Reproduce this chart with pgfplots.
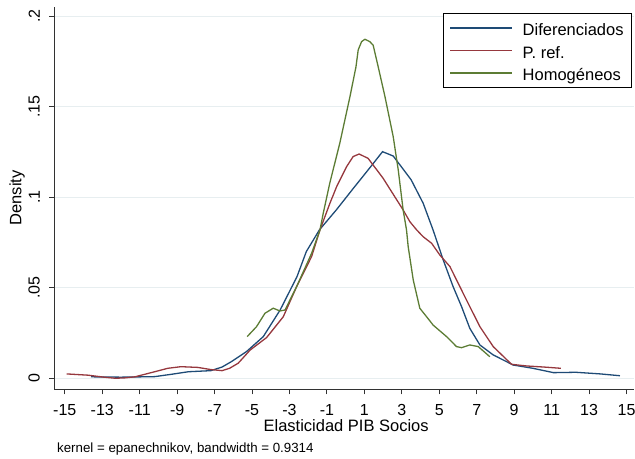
\documentclass[border=0pt]{standalone}
\usepackage{fontspec}
\setmainfont{Liberation Sans}
\usepackage{pgfplots}
\pgfplotsset{compat=1.18}
\definecolor{snavy}{RGB}{30,75,118}
\definecolor{smaroon}{RGB}{150,56,62}
\definecolor{sforest}{RGB}{92,124,52}
\definecolor{sgrid}{RGB}{231,238,240}
\definecolor{saxis}{RGB}{50,50,50}
\begin{document}
\begin{tikzpicture}
\path[use as bounding box] (-54.3bp,-69.7bp) rectangle (580.7bp,389.3bp);
\begin{axis}[
  scale only axis, width=579.7bp, height=382.6bp,
  xmin=-15.56, xmax=15.4, ymin=-0.0061, ymax=0.2053,
  axis x line*=bottom, axis y line*=left,
  axis line style={-, saxis, line width=0.9bp},
  clip=false,
  xtick={-15,-13,-11,-9,-7,-5,-3,-1,1,3,5,7,9,11,13,15},
  xticklabels={-15,-13,-11,-9,-7,-5,-3,-1,1,3,5,7,9,11,13,15},
  ytick={0,0.05,0.1,0.15,0.2},
  yticklabels={0,.05,.1,.15,.2},
  tick align=outside, major tick length=5bp,
  tick style={saxis, line width=0.9bp},
  minor tick num=0,
  tick label style={font=\fontsize{16bp}{19bp}\selectfont, text=black},
  xticklabel style={yshift=-6.5bp},
  yticklabel style={xshift=-6bp, rotate=90, anchor=south},
  ymajorgrids, grid style={sgrid, line width=1.2bp},
  every axis x label/.style={at={(axis description cs:0.5,0)}, yshift=-36.7bp, xshift=2bp, anchor=center, font=\fontsize{16.5bp}{19bp}\selectfont},
  every axis y label/.style={at={(axis description cs:0,0.5)}, xshift=-37.3bp, rotate=90, anchor=center, font=\fontsize{16.5bp}{19bp}\selectfont},
  xlabel={Elasticidad PIB Socios},
  ylabel={Density},
  legend style={at={(axis description cs:1,1)}, anchor=north east, xshift=-2bp, yshift=-6.6bp,
    draw=black, line width=0.8bp, font=\fontsize{16.5bp}{19bp}\selectfont,
    inner xsep=6bp, inner ysep=3bp, row sep=0bp, cells={anchor=west}},
  legend image code/.code={\draw[#1, line width=1.6bp] (0bp,0bp)--(62bp,0bp); \path (70bp,0bp);},
]
\addplot[snavy, line width=1.3bp] coordinates {
(-13.6,0.0008) (-12.0,0.0006) (-10.2,0.0009) (-9.3,0.0022) (-8.4,0.0036) (-7.2,0.0042)
(-6.6,0.0062) (-6.1,0.0092) (-5.3,0.0147) (-4.4,0.023) (-3.5,0.0377) (-2.6,0.0561)
(-2.1,0.070) (-1.4,0.082) (-0.5,0.093) (0.4,0.1048) (1.3,0.1164) (1.97,0.1252)
(2.54,0.1228) (3.0,0.1165) (3.5,0.1096) (4.14,0.0967) (4.67,0.0819) (5.21,0.0654)
(5.74,0.0506) (6.19,0.0396) (6.63,0.0276) (7.17,0.0184) (7.88,0.0129) (8.95,0.0073)
(10.0,0.0055) (11.1,0.0031) (12.3,0.0033) (13.6,0.0024) (14.65,0.0014)
};
\addlegendentry{\rule{0pt}{17bp}Diferenciados\hspace{8bp}}
\addplot[smaroon, line width=1.3bp] coordinates {
(-14.9,0.0024) (-13.75,0.0017) (-12.9,0.0006) (-12.3,0.0) (-11.8,0.0002) (-11.25,0.0008)
(-10.2,0.0036) (-9.5,0.0055) (-8.8,0.0064) (-7.9,0.006) (-7.2,0.0048) (-6.6,0.0042)
(-6.2,0.0055) (-5.74,0.0083) (-5.1,0.0156) (-4.22,0.0225) (-3.33,0.034) (-2.62,0.0506)
(-1.82,0.0672) (-1.37,0.082) (-0.84,0.0967) (-0.48,0.1059) (0.05,0.1169) (0.4,0.1225) (0.72,0.1239)
(1.2,0.1215) (2.0,0.1105) (3.07,0.093) (3.43,0.0865) (3.79,0.082) (4.14,0.0782) (4.59,0.0746)
(5.03,0.0681) (5.57,0.0617) (6.10,0.0506) (6.63,0.0396) (7.17,0.0285) (7.88,0.0175)
(8.86,0.0077) (9.66,0.0068) (10.73,0.0061) (11.49,0.0055)
};
\addlegendentry{\rule{0pt}{17bp}P. ref.}
\addplot[sforest, line width=1.3bp] coordinates {
(-5.26,0.023) (-4.76,0.0285) (-4.31,0.0359) (-3.87,0.0387) (-3.51,0.0372) (-3.24,0.0377)
(-2.62,0.0506) (-1.82,0.069) (-1.37,0.082) (-1.2,0.091) (-0.85,0.1077) (-0.31,0.130)
(0.23,0.1556) (0.55,0.172) (0.67,0.1814) (0.85,0.186) (1.03,0.1873) (1.29,0.186) (1.47,0.184)
(1.74,0.172) (2.10,0.1556) (2.54,0.1335) (2.81,0.115) (3.07,0.093) (3.25,0.082)
(3.34,0.0727) (3.61,0.0543) (3.96,0.0387) (4.46,0.0322) (4.67,0.0294) (5.39,0.023)
(5.92,0.0175) (6.19,0.0169) (6.63,0.0184) (7.08,0.0175) (7.70,0.0119)
};
\addlegendentry{\rule{0pt}{17bp}Homogéneos}
\end{axis}
\node[anchor=base west, font=\fontsize{13.3bp}{15bp}\selectfont, inner sep=0pt] at (2.7bp,-62.7bp) {kernel = epanechnikov, bandwidth = 0.9314};
\end{tikzpicture}
\end{document}
